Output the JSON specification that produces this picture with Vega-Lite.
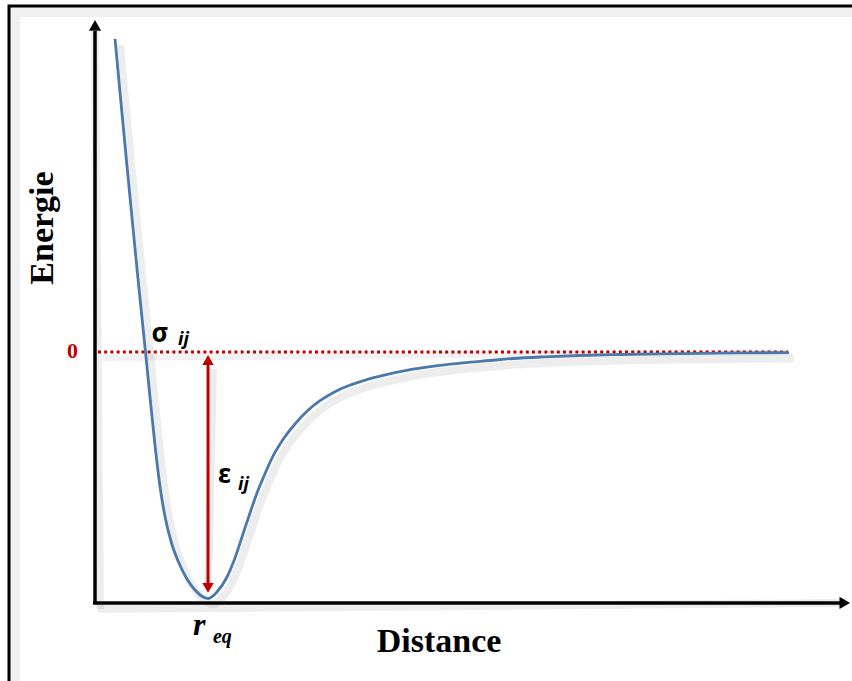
{
  "$schema": "https://vega.github.io/schema/vega-lite/v6.json",
  "width": 852,
  "height": 681,
  "autosize": {"type": "none"},
  "padding": 0,
  "background": "white",
  "config": {"view": {"stroke": null}},
  "datasets": {
    "curve": [
      {"x": 0.2667, "y": 1.2776}, {"x": 0.3427, "y": 1.0286}, {"x": 0.4187, "y": 0.7837},
      {"x": 0.4960, "y": 0.5388}, {"x": 0.5747, "y": 0.2939}, {"x": 0.6733, "y": 0},
      {"x": 0.7373, "y": -0.1959}, {"x": 0.8067, "y": -0.4}, {"x": 0.8693, "y": -0.5551},
      {"x": 0.9373, "y": -0.6776}, {"x": 1.02, "y": -0.7796}, {"x": 1.1133, "y": -0.8571},
      {"x": 1.2267, "y": -0.9265}, {"x": 1.3333, "y": -0.9714}, {"x": 1.42, "y": -0.9959},
      {"x": 1.5067, "y": -1.0061},
      {"x": 1.6267, "y": -0.9796}, {"x": 1.76, "y": -0.9184}, {"x": 1.8667, "y": -0.8408},
      {"x": 1.9733, "y": -0.7429}, {"x": 2.0667, "y": -0.6571}, {"x": 2.16, "y": -0.5755},
      {"x": 2.2533, "y": -0.5061}, {"x": 2.36, "y": -0.4327}, {"x": 2.4933, "y": -0.3633},
      {"x": 2.6667, "y": -0.2939}, {"x": 2.84, "y": -0.238}, {"x": 3.0, "y": -0.1988},
      {"x": 3.2, "y": -0.162}, {"x": 3.36, "y": -0.14}, {"x": 3.56, "y": -0.1186},
      {"x": 3.8, "y": -0.0988}, {"x": 4.24, "y": -0.0702}, {"x": 4.6, "y": -0.0543},
      {"x": 4.9067, "y": -0.0441}, {"x": 5.2667, "y": -0.0347}, {"x": 5.5733, "y": -0.0265},
      {"x": 6.0, "y": -0.0196}, {"x": 6.4667, "y": -0.0143}, {"x": 7.0, "y": -0.0102},
      {"x": 7.5333, "y": -0.0073}, {"x": 8.0667, "y": -0.0053}, {"x": 8.6667, "y": -0.0037},
      {"x": 9.2533, "y": -0.0024}
    ],
    "axes": [
      {"x": 0, "y": -1.0245, "x2": 0, "y2": 1.31},
      {"x": -0.027, "y": -1.0245, "x2": 9.96, "y2": -1.0245}
    ],
    "zero": [{"x": 0.04, "y": 0, "x2": 9.24, "y2": 0}],
    "eps": [{"x": 1.507, "y": -0.045, "x2": 1.507, "y2": -0.95}],
    "border": [{"x": -1.1467, "y": 1.412, "x2": 10.3, "y2": -1.45}],
    "bigText": [
      {"x": -0.56, "y": 0.506, "t": "Energie", "a": 270},
      {"x": 4.587, "y": -1.2245, "t": "Distance", "a": 0}
    ],
    "greek": [{"x": 0.867, "y": 0.041, "t": "σ"}, {"x": 1.727, "y": -0.5347, "t": "ε"}],
    "sub": [{"x": 1.107, "y": 0.0286, "t": "ij"}, {"x": 1.907, "y": -0.563, "t": "ij"}],
    "r": [{"x": 1.307, "y": -1.155, "t": "r"}],
    "eq": [{"x": 1.573, "y": -1.188, "t": "eq"}]
  },
  "encoding": {
    "x": {"field": "x", "type": "quantitative", "axis": null, "scale": {"domain": [-1.2667, 10.0933], "nice": false, "zero": false}},
    "y": {"field": "y", "type": "quantitative", "axis": null, "scale": {"domain": [-1.3429, 1.4367], "nice": false, "zero": false}}
  },
  "layer": [
    {
      "data": {"name": "border"},
      "mark": {"type": "rect", "fill": null, "stroke": "#000000", "strokeOpacity": 0.06, "strokeWidth": 10, "xOffset": 6, "yOffset": 6},
      "encoding": {"x2": {"field": "x2"}, "y2": {"field": "y2"}}
    },
    {
      "data": {"name": "border"},
      "mark": {"type": "rect", "fill": null, "stroke": "#000000", "strokeWidth": 3},
      "encoding": {"x2": {"field": "x2"}, "y2": {"field": "y2"}}
    },
    {
      "data": {"name": "axes"},
      "mark": {"type": "rule", "color": "#000000", "strokeWidth": 8, "opacity": 0.07, "xOffset": 5, "yOffset": 6},
      "encoding": {"x2": {"field": "x2"}, "y2": {"field": "y2"}}
    },
    {
      "data": {"name": "curve"},
      "mark": {"type": "line", "color": "#000000", "strokeWidth": 8, "opacity": 0.07, "interpolate": "monotone", "xOffset": 5, "yOffset": 6},
      "encoding": {"order": {"field": "x", "type": "quantitative"}}
    },
    {
      "data": {"name": "eps"},
      "mark": {"type": "rule", "color": "#000000", "strokeWidth": 8, "opacity": 0.07, "xOffset": 5, "yOffset": 6},
      "encoding": {"x2": {"field": "x2"}, "y2": {"field": "y2"}}
    },
    {
      "data": {"name": "zero"},
      "mark": {"type": "rule", "color": "#000000", "strokeWidth": 6, "opacity": 0.05, "xOffset": 4, "yOffset": 6},
      "encoding": {"x2": {"field": "x2"}, "y2": {"field": "y2"}}
    },
    {
      "data": {"name": "axes"},
      "mark": {"type": "rule", "color": "#000000", "strokeWidth": 3.5},
      "encoding": {"x2": {"field": "x2"}, "y2": {"field": "y2"}}
    },
    {
      "data": {"values": [{"x": 0, "y": 1.333}]},
      "mark": {"type": "point", "shape": "triangle-up", "filled": true, "color": "#000000", "opacity": 1, "size": 150},
      "encoding": {}
    },
    {
      "data": {"values": [{"x": 9.997, "y": -1.0245}]},
      "mark": {"type": "point", "shape": "triangle-right", "filled": true, "color": "#000000", "opacity": 1, "size": 150},
      "encoding": {}
    },
    {
      "data": {"name": "zero"},
      "mark": {"type": "rule", "color": "#c00000", "strokeWidth": 3, "strokeDash": [3, 3.2]},
      "encoding": {"x2": {"field": "x2"}, "y2": {"field": "y2"}}
    },
    {
      "data": {"name": "curve"},
      "mark": {"type": "line", "color": "#4a79aa", "strokeWidth": 2.8, "interpolate": "monotone"},
      "encoding": {"order": {"field": "x", "type": "quantitative"}}
    },
    {
      "data": {"name": "eps"},
      "mark": {"type": "rule", "color": "#c00000", "strokeWidth": 3},
      "encoding": {"x2": {"field": "x2"}, "y2": {"field": "y2"}}
    },
    {
      "data": {"values": [{"x": 1.507, "y": -0.0327}]},
      "mark": {"type": "point", "shape": "triangle-up", "filled": true, "color": "#c00000", "opacity": 1, "size": 130},
      "encoding": {}
    },
    {
      "data": {"values": [{"x": 1.507, "y": -0.963}]},
      "mark": {"type": "point", "shape": "triangle-down", "filled": true, "color": "#c00000", "opacity": 1, "size": 130},
      "encoding": {}
    },
    {
      "data": {"values": [{"x": -0.3, "y": -0.0245, "t": "0"}]},
      "mark": {"type": "text", "font": "Liberation Serif", "fontWeight": "bold", "fontSize": 22, "color": "#c00000", "align": "center", "baseline": "alphabetic"},
      "encoding": {"text": {"field": "t"}}
    },
    {
      "data": {"name": "bigText"},
      "mark": {"type": "text", "font": "Liberation Serif", "fontWeight": "bold", "fontSize": 34, "color": "#000000", "align": "center", "baseline": "alphabetic"},
      "encoding": {"text": {"field": "t"}, "angle": {"field": "a", "type": "quantitative", "scale": null}}
    },
    {
      "data": {"name": "greek"},
      "mark": {"type": "text", "font": "Noto Sans", "fontWeight": "bold", "fontSize": 26, "color": "#000000", "align": "center", "baseline": "alphabetic"},
      "encoding": {"text": {"field": "t"}}
    },
    {
      "data": {"name": "sub"},
      "mark": {"type": "text", "font": "Noto Sans", "fontWeight": "bold", "fontStyle": "italic", "fontSize": 18, "color": "#000000", "align": "left", "baseline": "alphabetic"},
      "encoding": {"text": {"field": "t"}}
    },
    {
      "data": {"name": "r"},
      "mark": {"type": "text", "font": "Liberation Serif", "fontWeight": "bold", "fontStyle": "italic", "fontSize": 32, "color": "#000000", "align": "left", "baseline": "alphabetic"},
      "encoding": {"text": {"field": "t"}}
    },
    {
      "data": {"name": "eq"},
      "mark": {"type": "text", "font": "Liberation Serif", "fontWeight": "bold", "fontStyle": "italic", "fontSize": 20, "color": "#000000", "align": "left", "baseline": "alphabetic"},
      "encoding": {"text": {"field": "t"}}
    }
  ]
}
